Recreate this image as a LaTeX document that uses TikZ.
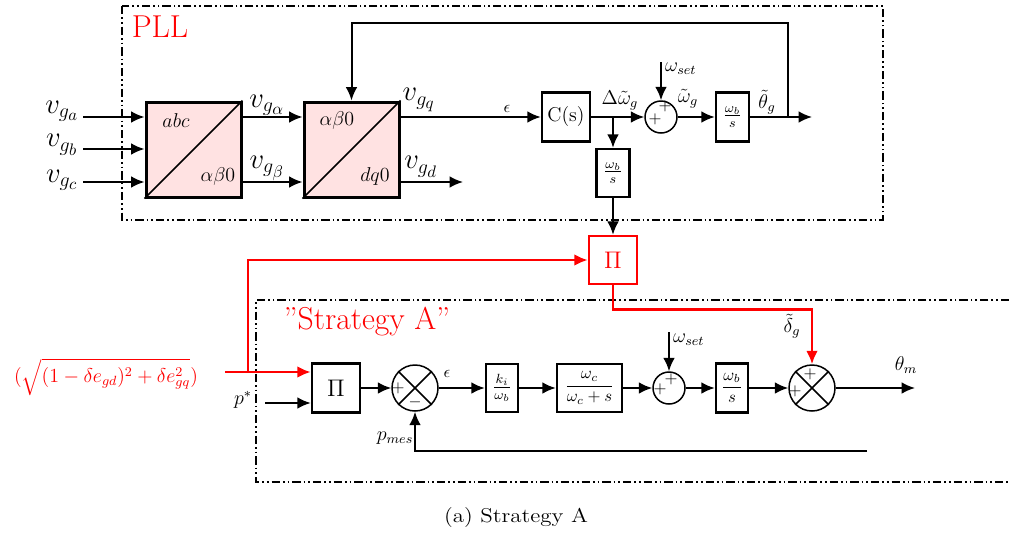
\documentclass[tikz,border=0pt]{standalone}
\usepackage{amsmath}
\usepackage{graphicx}
\usetikzlibrary{arrows.meta,calc}
\definecolor{pinkfill}{RGB}{255,226,226}
\tikzset{
 tfbox/.style={draw, line width=1.8pt, fill=pinkfill, inner sep=0pt, minimum width=57pt, minimum height=57pt},
 blk/.style={draw, line width=1.5pt, fill=white, inner sep=0pt},
 sumc/.style={draw, circle, line width=0.9pt, inner sep=0pt, minimum size=19.2pt},
 xcirc/.style={draw, circle, line width=0.9pt, inner sep=0pt, minimum size=27.6pt},
 conn/.style={line width=1.2pt},
 arr/.style={conn, -{Latex[length=8pt,width=7pt]}},
 rarr/.style={arr, red, line width=1.5pt},
 frm/.style={line width=1.2pt, dash pattern=on 5pt off 1.8pt on 1pt off 1.8pt on 1pt off 1.8pt},
 sgn/.style={inner sep=0pt, font=\normalsize},
 lab/.style={inner sep=0.5pt},
 bigred/.style={red, inner sep=0.5pt, font=\fontsize{19}{22}\selectfont},
}
\begin{document}
\begin{tikzpicture}[x=0.6pt,y=-0.6pt]
\useasboundingbox (0,0) rectangle (1009,533);
% frames
\draw[frm] (122,6) rectangle (883,220);
\draw[frm] (1009,300) -- (256,300) -- (256,482) -- (1009,482);
\node[bigred] (pll) at (160,27) {PLL};
\node[bigred] (strat) at (367,322) {\textquotedblright Strategy A\textquotedblright};

% ---------- PLL ----------
\node[tfbox] (abc) at (193.5,149.5) {};
\node[tfbox] (dq) at (351.5,149.5) {};
\draw[line width=1pt] (abc.south west) -- (abc.north east);
\draw[line width=1pt] (dq.south west) -- (dq.north east);
\node[lab, font=\large] (abcA) at (176,121) {$abc$};
\node[lab, font=\large] (abcB) at (218,176) {$\alpha\beta0$};
\node[lab, font=\large] (dqA) at (337,120) {$\alpha\beta0$};
\node[lab, font=\large] (dqB) at (375,176) {$dq0$};

\coordinate (ia) at (83,117);
\coordinate (ib) at (83,149);
\coordinate (ic) at (83,182);
\draw[arr] (ia) -- (ia -| abc.west);
\draw[arr] (ib) -- (ib -| abc.west);
\draw[arr] (ic) -- (ic -| abc.west);
\node[lab, font=\LARGE] (va) at (62,111) {$v_{g_a}$};
\node[lab, font=\LARGE] (vb) at (62,145) {$v_{g_b}$};
\node[lab, font=\LARGE] (vc) at (62,180) {$v_{g_c}$};

\draw[arr] (ia -| abc.east) -- (ia -| dq.west);
\draw[arr] (ic -| abc.east) -- (ic -| dq.west);
\node[lab, font=\LARGE] (val) at (267,105) {$v_{g_\alpha}$};
\node[lab, font=\LARGE] (vbe) at (267,168) {$v_{g_\beta}$};

\node[blk, minimum width=28.8pt, minimum height=29.4pt, font=\large] (Cs) at (566,117) {C(s)};
\node[sumc] (s1) at (661,117) {};
\node[blk, minimum width=19.8pt, minimum height=28.8pt, font=\large] (wb1) at (613,173) {$\frac{\omega_b}{s}$};
\node[blk, minimum width=19.8pt, minimum height=29.4pt, font=\large] (wb2) at (732.5,117) {$\frac{\omega_b}{s}$};
\node[blk, draw=red, text=red, minimum size=28.8pt, font=\Large] (rpi) at (613,260) {$\Pi$};

\draw[arr] (ia -| dq.east) -- (Cs.west);
\coordinate (vgdEnd) at (463,182);
\draw[arr] (ic -| dq.east) -- (vgdEnd);
\node[lab, font=\LARGE] (vq) at (419,100) {$v_{g_q}$};
\node[lab, font=\LARGE] (vd) at (421,167) {$v_{g_d}$};
\node[lab] (eps1) at (507,109) {$\epsilon$};

\draw[arr] (Cs.east) -- (s1.west);
\draw[arr] (wb1 |- Cs) -- (wb1.north);
\draw[arr] (wb1.south) -- (rpi.north);
\coordinate (ws1) at (661,62);
\draw[arr] (ws1) -- (s1.north);
\node[lab, font=\large, anchor=west] (ws1L) at (664,69) {$\omega_{set}$};
\node[sgn] (s1a) at (655,119) {$+$};
\node[sgn] (s1b) at (665,106) {$+$};
\node[lab, font=\large] (dwg) at (620,100) {$\Delta\tilde{\omega}_g$};
\node[lab, font=\large] (wg) at (688,99) {$\tilde{\omega}_g$};
\draw[arr] (s1.east) -- (wb2.west);
\coordinate (thEnd) at (812,117);
\draw[arr] (wb2.east) -- (thEnd);
\node[lab, font=\large] (thg) at (767,102) {$\tilde{\theta}_g$};
\coordinate (fb) at (788,117);
\draw[arr] (fb) -- ++(0,-94) -| (dq.north);

% ---------- red ----------
\node[lab, red, font=\large] (sq) at (106,377) {$(\sqrt{(1-\delta e_{gd})^2+\delta e_{gq}^2})$};

% ---------- Strategy A ----------
\node[blk, minimum width=28.8pt, minimum height=29.4pt, font=\Large] (pi2) at (336,388) {$\Pi$};
\node[xcirc] (x1) at (415,388) {};
\draw[line width=0.9pt] (x1.north east) -- (x1.south west) (x1.north west) -- (x1.south east);
\node[blk, minimum width=19.2pt, minimum height=28.8pt, font=\large] (kb) at (502,388) {$\frac{k_i}{\omega_b}$};
\node[blk, minimum width=39pt, minimum height=28.8pt] (wc) at (589.5,388) {$\dfrac{\omega_c}{\omega_c+s}$};
\node[sumc] (s2) at (669,388) {};
\node[blk, minimum width=19.2pt, minimum height=29.4pt] (wb3) at (732,388) {$\dfrac{\omega_b}{s}$};
\node[xcirc] (x2) at (812,388) {};
\draw[line width=0.9pt] (x2.north east) -- (x2.south west) (x2.north west) -- (x2.south east);

\coordinate (rs) at (225,372);
\coordinate (rb) at (248,372);
\draw[rarr] (rs) -- (rs -| pi2.west);
\draw[rarr] (rb) |- (rpi.west);
\draw[rarr] (rpi.south) -- ++(0,24) -| (x2.north);

\coordinate (ps) at (265,403);
\draw[arr] (ps) -- (ps -| pi2.west);
\node[lab, font=\large] (psL) at (243,400) {$p^*$};
\draw[arr] (pi2.east) -- (x1.west);
\draw[arr] (x1.east) -- (kb.west);
\draw[arr] (kb.east) -- (wc.west);
\draw[arr] (wc.east) -- (s2.west);
\draw[arr] (s2.east) -- (wb3.west);
\draw[arr] (wb3.east) -- (x2.west);
\coordinate (thm) at (915,388);
\draw[arr] (x2.east) -- (thm);
\coordinate (ws2) at (669,332);
\draw[arr] (ws2) -- (s2.north);
\coordinate (pm) at (867,451);
\draw[arr] (pm) -| (x1.south);

\node[lab] (eps2) at (447,374) {$\epsilon$};
\node[lab, font=\large] (pmL) at (395,438) {$p_{mes}$};
\node[lab, font=\large, anchor=west] (ws2L) at (672,340) {$\omega_{set}$};
\node[lab, font=\large] (dg) at (792,326) {$\tilde{\delta}_g$};
\node[lab, font=\large] (thmL) at (906,365) {$\theta_m$};
\node[sgn] (x1a) at (398,388) {$+$};
\node[sgn] (x1b) at (415,402) {$-$};
\node[sgn] (s2a) at (660,389) {$+$};
\node[sgn] (s2b) at (671,379) {$+$};
\node[sgn] (x2a) at (795,391) {$+$};
\node[sgn] (x2b) at (810,374) {$+$};

\node[lab, font=\large] (cap) at (516,517) {\scalebox{1.15}[1]{(a) Strategy A}};
\end{tikzpicture}
\end{document}
